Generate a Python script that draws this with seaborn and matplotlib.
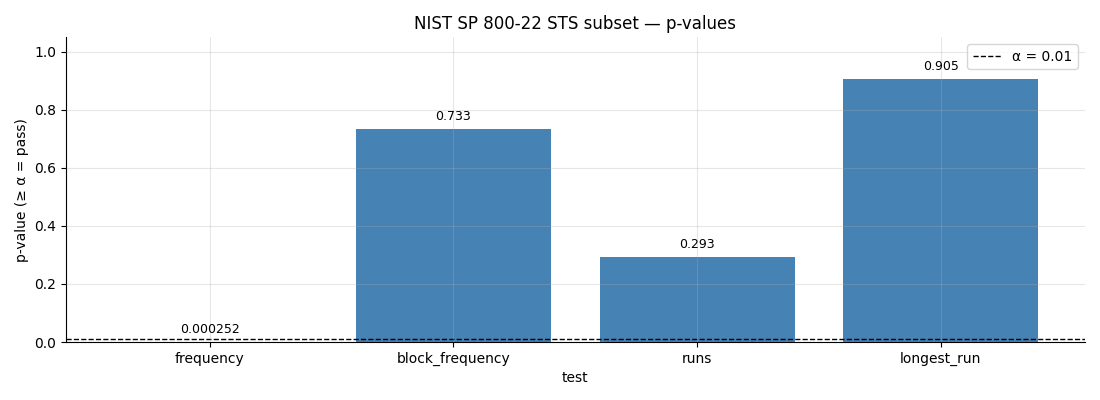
import matplotlib
matplotlib.use("Agg")
import matplotlib.pyplot as plt
import seaborn as sns
import pandas as pd

tests = ["frequency", "block_frequency", "runs", "longest_run"]
p_values = [0.000252, 0.733, 0.293, 0.905]
p_labels = ["0.000252", "0.733", "0.293", "0.905"]
alpha = 0.01

data = pd.DataFrame({"test": tests, "p": p_values})

plt.rcParams['font.family'] = ['DejaVu Sans']

fig, ax = plt.subplots(figsize=(11, 4), dpi=100)
sns.barplot(data=data, x="test", y="p", color="steelblue", saturation=1, width=0.8, ax=ax)

ax.axhline(alpha, color="black", linestyle="--", linewidth=1, label="α = 0.01")

for i, (v, lab) in enumerate(zip(p_values, p_labels)):
    ax.text(i, v + 0.02, lab, ha="center", va="bottom", fontsize=9)

ax.set_xlim(-0.59, 3.59)
ax.set_ylim(0, 1.05)
ax.set_title("NIST SP 800-22 STS subset — p-values")
ax.set_xlabel("test")
ax.set_ylabel("p-value (≥ α = pass)")
ax.grid(True, alpha=0.3)
ax.set_axisbelow(False)
ax.legend(loc="upper right")
sns.despine(ax=ax)

plt.subplots_adjust(left=0.06, right=0.986, top=0.907, bottom=0.145)
plt.savefig("out.png")
